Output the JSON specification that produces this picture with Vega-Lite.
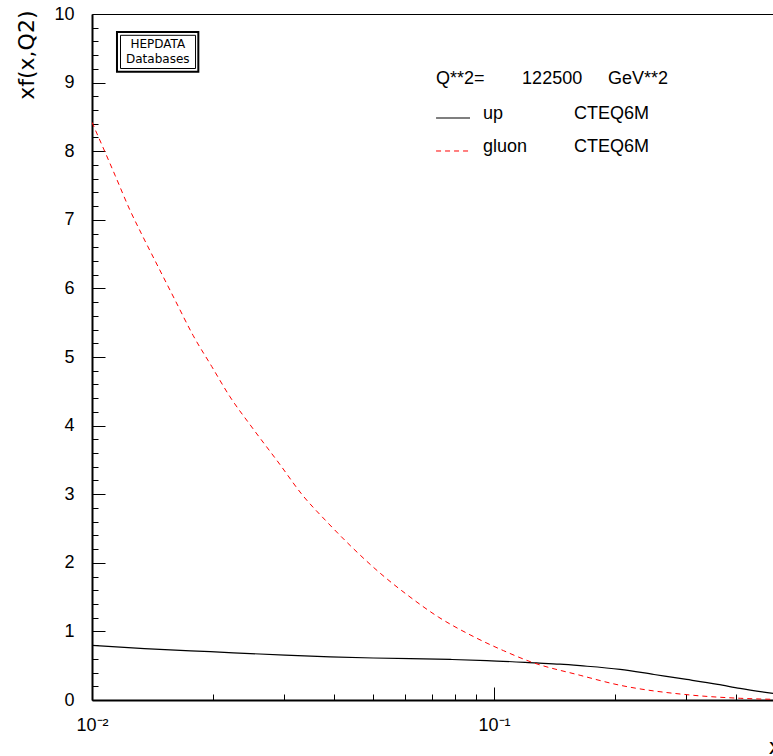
{
  "$schema": "https://vega.github.io/schema/vega-lite/v6.json",
  "width": 681,
  "height": 686,
  "autosize": {"type": "none"},
  "padding": {"left": 92, "top": 14, "right": 0, "bottom": 56},
  "background": "white",
  "config": {
    "view": {"stroke": null},
    "axis": {
      "grid": false,
      "labelFont": "Liberation Sans",
      "labelFontSize": 18,
      "labelColor": "black",
      "titleFont": "DejaVu Sans",
      "titleFontSize": 22,
      "titleFontWeight": "normal",
      "titleColor": "black",
      "domainColor": "black",
      "tickColor": "black",
      "labelFlush": false,
      "labelOverlap": false
    }
  },
  "datasets": {
    "up": [
      {"x": 0.01, "y": 0.795},
      {"x": 0.0135, "y": 0.75},
      {"x": 0.0197, "y": 0.704},
      {"x": 0.0302, "y": 0.654},
      {"x": 0.0391, "y": 0.63},
      {"x": 0.0501, "y": 0.612},
      {"x": 0.0779, "y": 0.591},
      {"x": 0.0959, "y": 0.575},
      {"x": 0.1274, "y": 0.54},
      {"x": 0.1459, "y": 0.522},
      {"x": 0.1637, "y": 0.50},
      {"x": 0.2058, "y": 0.447},
      {"x": 0.25, "y": 0.372},
      {"x": 0.3013, "y": 0.30},
      {"x": 0.36, "y": 0.228},
      {"x": 0.409, "y": 0.17},
      {"x": 0.494, "y": 0.096}
    ],
    "gluon": [
      {"x": 0.01, "y": 8.42},
      {"x": 0.01077, "y": 7.99},
      {"x": 0.01141, "y": 7.65},
      {"x": 0.01243, "y": 7.14},
      {"x": 0.01329, "y": 6.79},
      {"x": 0.01462, "y": 6.31},
      {"x": 0.01609, "y": 5.83},
      {"x": 0.01786, "y": 5.31},
      {"x": 0.01986, "y": 4.86},
      {"x": 0.02204, "y": 4.42},
      {"x": 0.02496, "y": 3.98},
      {"x": 0.02936, "y": 3.43},
      {"x": 0.03324, "y": 3.0},
      {"x": 0.03835, "y": 2.60},
      {"x": 0.04426, "y": 2.23},
      {"x": 0.05205, "y": 1.85},
      {"x": 0.06121, "y": 1.52},
      {"x": 0.07268, "y": 1.21},
      {"x": 0.08716, "y": 0.95},
      {"x": 0.1055, "y": 0.72},
      {"x": 0.1229, "y": 0.56},
      {"x": 0.1637, "y": 0.36},
      {"x": 0.2038, "y": 0.22},
      {"x": 0.3073, "y": 0.073},
      {"x": 0.4093, "y": 0.025},
      {"x": 0.494, "y": 0.01}
    ]
  },
  "resolve": {"axis": {"x": "independent", "y": "independent"}},
  "layer": [
    {
      "data": {"name": "up"},
      "mark": {"type": "line", "color": "black", "strokeWidth": 1.2, "clip": true, "interpolate": "monotone"},
      "encoding": {
        "x": {
          "field": "x", "type": "quantitative",
          "scale": {"type": "log", "domain": [0.01, 0.494], "nice": false},
          "axis": {
            "orient": "bottom", "values": [0.01, 0.1], "ticks": false,
            "domainWidth": 2, "labelExpr": "datum.value < 0.05 ? '10⁻²' : '10⁻¹'",
            "labelPadding": 30, "labelBaseline": "alphabetic", "labelAlign": "center", "labelDx": 3,
            "title": "x", "titleX": 676, "titleY": 53, "titleAlign": "left", "titleBaseline": "alphabetic"
          }
        },
        "y": {
          "field": "y", "type": "quantitative",
          "scale": {"domain": [0, 10], "nice": false, "zero": false},
          "axis": {
            "orient": "left", "values": [0, 1, 2, 3, 4, 5, 6, 7, 8, 9, 10], "ticks": false,
            "domainWidth": 2, "labelPadding": 18, "labelAlign": "right", "labelBaseline": "middle",
            "title": "xf(x,Q2)", "titleAngle": 270, "titleX": -59, "titleY": -4,
            "titleAlign": "right", "titleBaseline": "alphabetic"
          }
        }
      }
    },
    {
      "data": {"name": "gluon"},
      "mark": {"type": "line", "color": "#ff0000", "strokeWidth": 1, "strokeDash": [5, 4], "clip": true, "interpolate": "monotone"},
      "encoding": {
        "x": {
          "field": "x", "type": "quantitative",
          "scale": {"type": "log", "domain": [0.01, 0.494], "nice": false},
          "axis": {"orient": "bottom", "values": [0.01, 0.1], "domain": false, "labels": false, "tickSize": -13, "tickWidth": 1, "title": null}
        },
        "y": {
          "field": "y", "type": "quantitative",
          "scale": {"domain": [0, 10], "nice": false, "zero": false},
          "axis": {"orient": "left", "values": [0, 1, 2, 3, 4, 5, 6, 7, 8, 9, 10], "domain": false, "labels": false, "tickSize": -13, "tickWidth": 1, "title": null}
        }
      }
    },
    {
      "data": {"values": [{}]},
      "mark": {"type": "rule", "color": "black", "strokeWidth": 1.2},
      "encoding": {
        "x": {
          "datum": 0.07173, "type": "quantitative",
          "scale": {"type": "log", "domain": [0.01, 0.494], "nice": false},
          "axis": {"orient": "bottom", "values": [0.02, 0.03, 0.04, 0.05, 0.06, 0.07, 0.08, 0.09, 0.2, 0.3, 0.4], "domain": false, "labels": false, "tickSize": -6, "tickWidth": 1, "title": null}
        },
        "x2": {"datum": 0.08715},
        "y": {
          "datum": 8.484, "type": "quantitative",
          "scale": {"domain": [0, 10], "nice": false, "zero": false},
          "axis": {"orient": "left", "values": [0.2,0.4,0.6,0.8,1.2,1.4,1.6,1.8,2.2,2.4,2.6,2.8,3.2,3.4,3.6,3.8,4.2,4.4,4.6,4.8,5.2,5.4,5.6,5.8,6.2,6.4,6.6,6.8,7.2,7.4,7.6,7.8,8.2,8.4,8.6,8.8,9.2,9.4,9.6,9.8], "domain": false, "labels": false, "tickSize": -6, "tickWidth": 1, "title": null}
        }
      }
    },
    {
      "data": {"values": [{}]},
      "mark": {"type": "rule", "color": "#ff0000", "strokeWidth": 1, "strokeDash": [5, 4]},
      "encoding": {
        "x": {
          "datum": 0.07173, "type": "quantitative",
          "scale": {"type": "log", "domain": [0.01, 0.494], "nice": false},
          "axis": {"orient": "top", "values": [0.01, 0.1], "domain": true, "domainWidth": 1, "ticks": false, "labels": false, "title": null}
        },
        "x2": {"datum": 0.08715},
        "y": {
          "datum": 8.003, "type": "quantitative",
          "scale": {"domain": [0, 10], "nice": false, "zero": false},
          "axis": null
        }
      }
    },
    {
      "data": {"values": [{}]},
      "mark": {"type": "rect", "fillOpacity": 0, "stroke": "black", "strokeWidth": 2},
      "encoding": {
        "x": {"datum": 0.011538, "type": "quantitative", "scale": {"type": "log", "domain": [0.01, 0.494], "nice": false}, "axis": null},
        "x2": {"datum": 0.018385},
        "y": {"datum": 9.7376, "type": "quantitative", "scale": {"domain": [0, 10], "nice": false, "zero": false}, "axis": null},
        "y2": {"datum": 9.159}
      }
    },
    {
      "data": {"values": [{}]},
      "mark": {"type": "rect", "fillOpacity": 0, "stroke": "black", "strokeWidth": 1},
      "encoding": {
        "x": {"datum": 0.011773, "type": "quantitative", "scale": {"type": "log", "domain": [0.01, 0.494], "nice": false}, "axis": null},
        "x2": {"datum": 0.018093},
        "y": {"datum": 9.6895, "type": "quantitative", "scale": {"domain": [0, 10], "nice": false, "zero": false}, "axis": null},
        "y2": {"datum": 9.2055}
      }
    },
    {
      "data": {"values": [{}]},
      "mark": {"type": "text", "text": "HEPDATA", "font": "DejaVu Sans", "fontSize": 12, "align": "center", "baseline": "alphabetic", "color": "black"},
      "encoding": {
        "x": {"datum": 0.014573, "type": "quantitative", "scale": {"type": "log", "domain": [0.01, 0.494], "nice": false}, "axis": null},
        "y": {"datum": 9.5, "type": "quantitative", "scale": {"domain": [0, 10], "nice": false, "zero": false}, "axis": null}
      }
    },
    {
      "data": {"values": [{}]},
      "mark": {"type": "text", "text": "Databases", "font": "DejaVu Sans", "fontSize": 12, "align": "center", "baseline": "alphabetic", "color": "black"},
      "encoding": {
        "x": {"datum": 0.014573, "type": "quantitative", "scale": {"type": "log", "domain": [0.01, 0.494], "nice": false}, "axis": null},
        "y": {"datum": 9.281, "type": "quantitative", "scale": {"domain": [0, 10], "nice": false, "zero": false}, "axis": null}
      }
    },
    {
      "data": {"values": [{}]},
      "mark": {"type": "text", "text": "Q**2=", "font": "Liberation Sans", "fontSize": 18, "align": "left", "baseline": "alphabetic", "color": "black"},
      "encoding": {
        "x": {"datum": 0.07173, "type": "quantitative", "scale": {"type": "log", "domain": [0.01, 0.494], "nice": false}, "axis": null},
        "y": {"datum": 8.98, "type": "quantitative", "scale": {"domain": [0, 10], "nice": false, "zero": false}, "axis": null}
      }
    },
    {
      "data": {"values": [{}]},
      "mark": {"type": "text", "text": "122500", "font": "Liberation Sans", "fontSize": 18, "align": "left", "baseline": "alphabetic", "color": "black"},
      "encoding": {
        "x": {"datum": 0.11742, "type": "quantitative", "scale": {"type": "log", "domain": [0.01, 0.494], "nice": false}, "axis": null},
        "y": {"datum": 8.98, "type": "quantitative", "scale": {"domain": [0, 10], "nice": false, "zero": false}, "axis": null}
      }
    },
    {
      "data": {"values": [{}]},
      "mark": {"type": "text", "text": "GeV**2", "font": "Liberation Sans", "fontSize": 18, "align": "left", "baseline": "alphabetic", "color": "black"},
      "encoding": {
        "x": {"datum": 0.1921, "type": "quantitative", "scale": {"type": "log", "domain": [0.01, 0.494], "nice": false}, "axis": null},
        "y": {"datum": 8.98, "type": "quantitative", "scale": {"domain": [0, 10], "nice": false, "zero": false}, "axis": null}
      }
    },
    {
      "data": {"values": [{}]},
      "mark": {"type": "text", "text": "up", "font": "Liberation Sans", "fontSize": 18, "align": "left", "baseline": "alphabetic", "color": "black"},
      "encoding": {
        "x": {"datum": 0.0939, "type": "quantitative", "scale": {"type": "log", "domain": [0.01, 0.494], "nice": false}, "axis": null},
        "y": {"datum": 8.469, "type": "quantitative", "scale": {"domain": [0, 10], "nice": false, "zero": false}, "axis": null}
      }
    },
    {
      "data": {"values": [{}]},
      "mark": {"type": "text", "text": "CTEQ6M", "font": "Liberation Sans", "fontSize": 18, "align": "left", "baseline": "alphabetic", "color": "black"},
      "encoding": {
        "x": {"datum": 0.1581, "type": "quantitative", "scale": {"type": "log", "domain": [0.01, 0.494], "nice": false}, "axis": null},
        "y": {"datum": 8.469, "type": "quantitative", "scale": {"domain": [0, 10], "nice": false, "zero": false}, "axis": null}
      }
    },
    {
      "data": {"values": [{}]},
      "mark": {"type": "text", "text": "gluon", "font": "Liberation Sans", "fontSize": 18, "align": "left", "baseline": "alphabetic", "color": "black"},
      "encoding": {
        "x": {"datum": 0.0939, "type": "quantitative", "scale": {"type": "log", "domain": [0.01, 0.494], "nice": false}, "axis": null},
        "y": {"datum": 7.988, "type": "quantitative", "scale": {"domain": [0, 10], "nice": false, "zero": false}, "axis": null}
      }
    },
    {
      "data": {"values": [{}]},
      "mark": {"type": "text", "text": "CTEQ6M", "font": "Liberation Sans", "fontSize": 18, "align": "left", "baseline": "alphabetic", "color": "black"},
      "encoding": {
        "x": {"datum": 0.1581, "type": "quantitative", "scale": {"type": "log", "domain": [0.01, 0.494], "nice": false}, "axis": null},
        "y": {"datum": 7.988, "type": "quantitative", "scale": {"domain": [0, 10], "nice": false, "zero": false}, "axis": null}
      }
    }
  ]
}
